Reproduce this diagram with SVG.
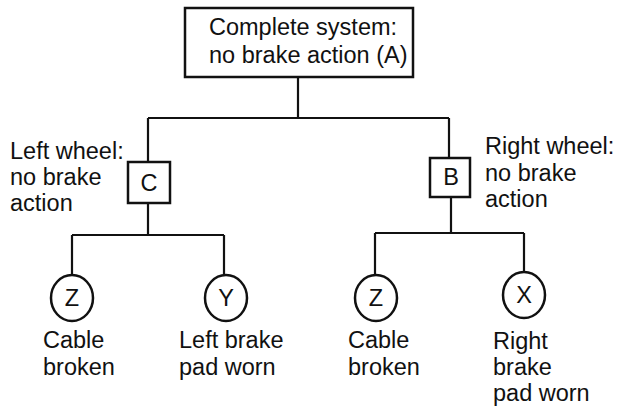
<svg xmlns="http://www.w3.org/2000/svg" width="618" height="407" viewBox="0 0 618 407">
<style>
.t{font-family:"Liberation Sans",Arial,sans-serif;font-size:23.5px;fill:#111}
.c{text-anchor:middle}
.box{fill:#fff;stroke:#111;stroke-width:2.5}
.ln{fill:none;stroke:#111;stroke-width:2.2}
</style>
<rect width="618" height="407" fill="#fff"/>
<g id="connectors" class="ln">
<path d="M298 77V118M148 118H449M148 118V162M449 118V158"/>
<path d="M148 203V235M72 235H224M72 235V275M224 235V275"/>
<path d="M451 197V233M375 233H524M375 233V275M524 233V272" />
</g>
<g id="A">
<rect class="box" x="185" y="8" width="228" height="69"/>
<text class="t" x="209" y="35">Complete system:</text>
<text class="t" x="209" y="63">no brake action (A)</text>
</g>
<g id="C">
<rect class="box" x="128" y="162" width="42" height="41"/>
<text class="t c" x="149" y="191">C</text>
<text class="t" x="10" y="159">Left wheel:</text>
<text class="t" x="10" y="185">no brake</text>
<text class="t" x="10" y="211">action</text>
</g>
<g id="B">
<rect class="box" x="430" y="158" width="40" height="39"/>
<text class="t c" x="451" y="185">B</text>
<text class="t" x="485" y="154">Right wheel:</text>
<text class="t" x="485" y="181">no brake</text>
<text class="t" x="485" y="207">action</text>
</g>
<g id="Z1">
<ellipse class="box" cx="72" cy="298" rx="21" ry="23"/>
<text class="t c" x="72" y="306">Z</text>
<text class="t" x="43" y="348">Cable</text>
<text class="t" x="43" y="375">broken</text>
</g>
<g id="Y">
<ellipse class="box" cx="226" cy="298" rx="21" ry="23"/>
<text class="t c" x="226" y="306">Y</text>
<text class="t" x="179" y="348">Left brake</text>
<text class="t" x="179" y="375">pad worn</text>
</g>
<g id="Z2">
<ellipse class="box" cx="376" cy="298" rx="21" ry="23"/>
<text class="t c" x="376" y="306">Z</text>
<text class="t" x="348" y="348">Cable</text>
<text class="t" x="348" y="375">broken</text>
</g>
<g id="X">
<ellipse class="box" cx="524" cy="295" rx="21" ry="23"/>
<text class="t c" x="524" y="303">X</text>
<text class="t" x="493" y="349">Right</text>
<text class="t" x="493" y="375">brake</text>
<text class="t" x="493" y="401">pad worn</text>
</g>
</svg>
